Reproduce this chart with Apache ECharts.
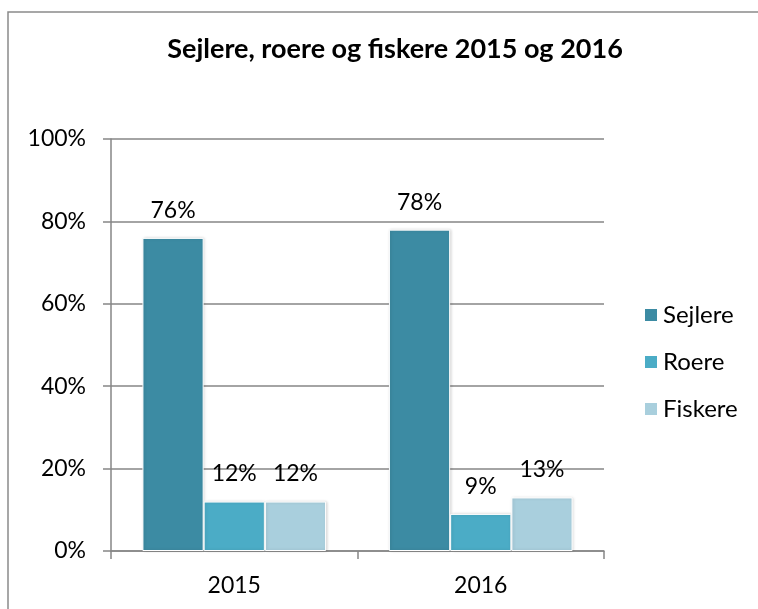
<!DOCTYPE html>
<html>
<head>
<meta charset="utf-8">
<script src="https://cdn.jsdelivr.net/npm/echarts@6/dist/echarts.min.js"></script>
<style>
  html, body { margin: 0; padding: 0; background: #fff; }
  #chart { width: 758px; height: 609px; }
</style>
</head>
<body>
<div id="chart"></div>
<script>
// data
const years = ['2015', '2016'];
const sejlere = [76, 78];
const roere = [12, 9];
const fiskere = [12, 13];
const yTicks = [0, 20, 40, 60, 80, 100];

const FONT = 'Lato';
const gridColor = '#868686';

const chart = echarts.init(document.getElementById('chart'));

function bar(name, data, color) {
  return {
    name: name,
    type: 'bar',
    data: data,
    barGap: '0%',
    barCategoryGap: '25.5%',
    itemStyle: { color: color, borderColor: '#fff', borderWidth: 1, shadowColor: 'rgba(0,0,0,0.15)', shadowBlur: 3, shadowOffsetX: 1 },
    label: {
      show: true,
      position: 'top',
      distance: 16,
      formatter: '{c}%',
      fontFamily: FONT,
      fontSize: 23,
      color: '#000'
    }
  };
}

const options = {
  animation: false,
  graphic: [{
    type: 'rect',
    shape: { x: 8, y: 12, width: 760, height: 620 },
    style: { fill: 'none', stroke: '#8a8a8a', lineWidth: 1.5 }
  }],
  title: {
    text: 'Sejlere, roere og fiskere 2015 og 2016',
    left: 390,
    textAlign: 'center',
    top: 31,
    textStyle: { fontFamily: FONT, fontWeight: 'bold', fontSize: 27, color: '#000' }
  },
  legend: {
    orient: 'vertical',
    left: 638,
    top: 298,
    itemWidth: 14,
    itemHeight: 14,
    itemGap: 23,
    icon: 'rect',
    textStyle: { fontFamily: FONT, fontSize: 24, lineHeight: 24, color: '#000' },
    data: ['Sejlere', 'Roere', 'Fiskere']
  },
  grid: { left: 111, right: 154, top: 139, bottom: 58, containLabel: false },
  xAxis: {
    type: 'category',
    data: years,
    axisLine: { lineStyle: { color: gridColor, width: 1.5 } },
    axisTick: { show: true, length: 8, lineStyle: { color: gridColor, width: 1.5 } },
    axisLabel: { fontFamily: FONT, fontSize: 23, color: '#000', margin: 23 }
  },
  yAxis: {
    type: 'value',
    min: yTicks[0],
    max: yTicks[yTicks.length - 1],
    interval: 20,
    axisLine: { show: true, lineStyle: { color: gridColor, width: 1.5 } },
    axisTick: { show: true, length: 8, lineStyle: { color: gridColor, width: 1.5 } },
    splitLine: { lineStyle: { color: gridColor, width: 1.5 } },
    axisLabel: { fontFamily: FONT, fontSize: 23, color: '#000', margin: 25, formatter: '{value}%' }
  },
  series: [
    bar('Sejlere', sejlere, '#3C8BA3'),
    bar('Roere', roere, '#4BACC6'),
    bar('Fiskere', fiskere, '#A9CFDD')
  ]
};

chart.setOption(options);
</script>
</body>
</html>
